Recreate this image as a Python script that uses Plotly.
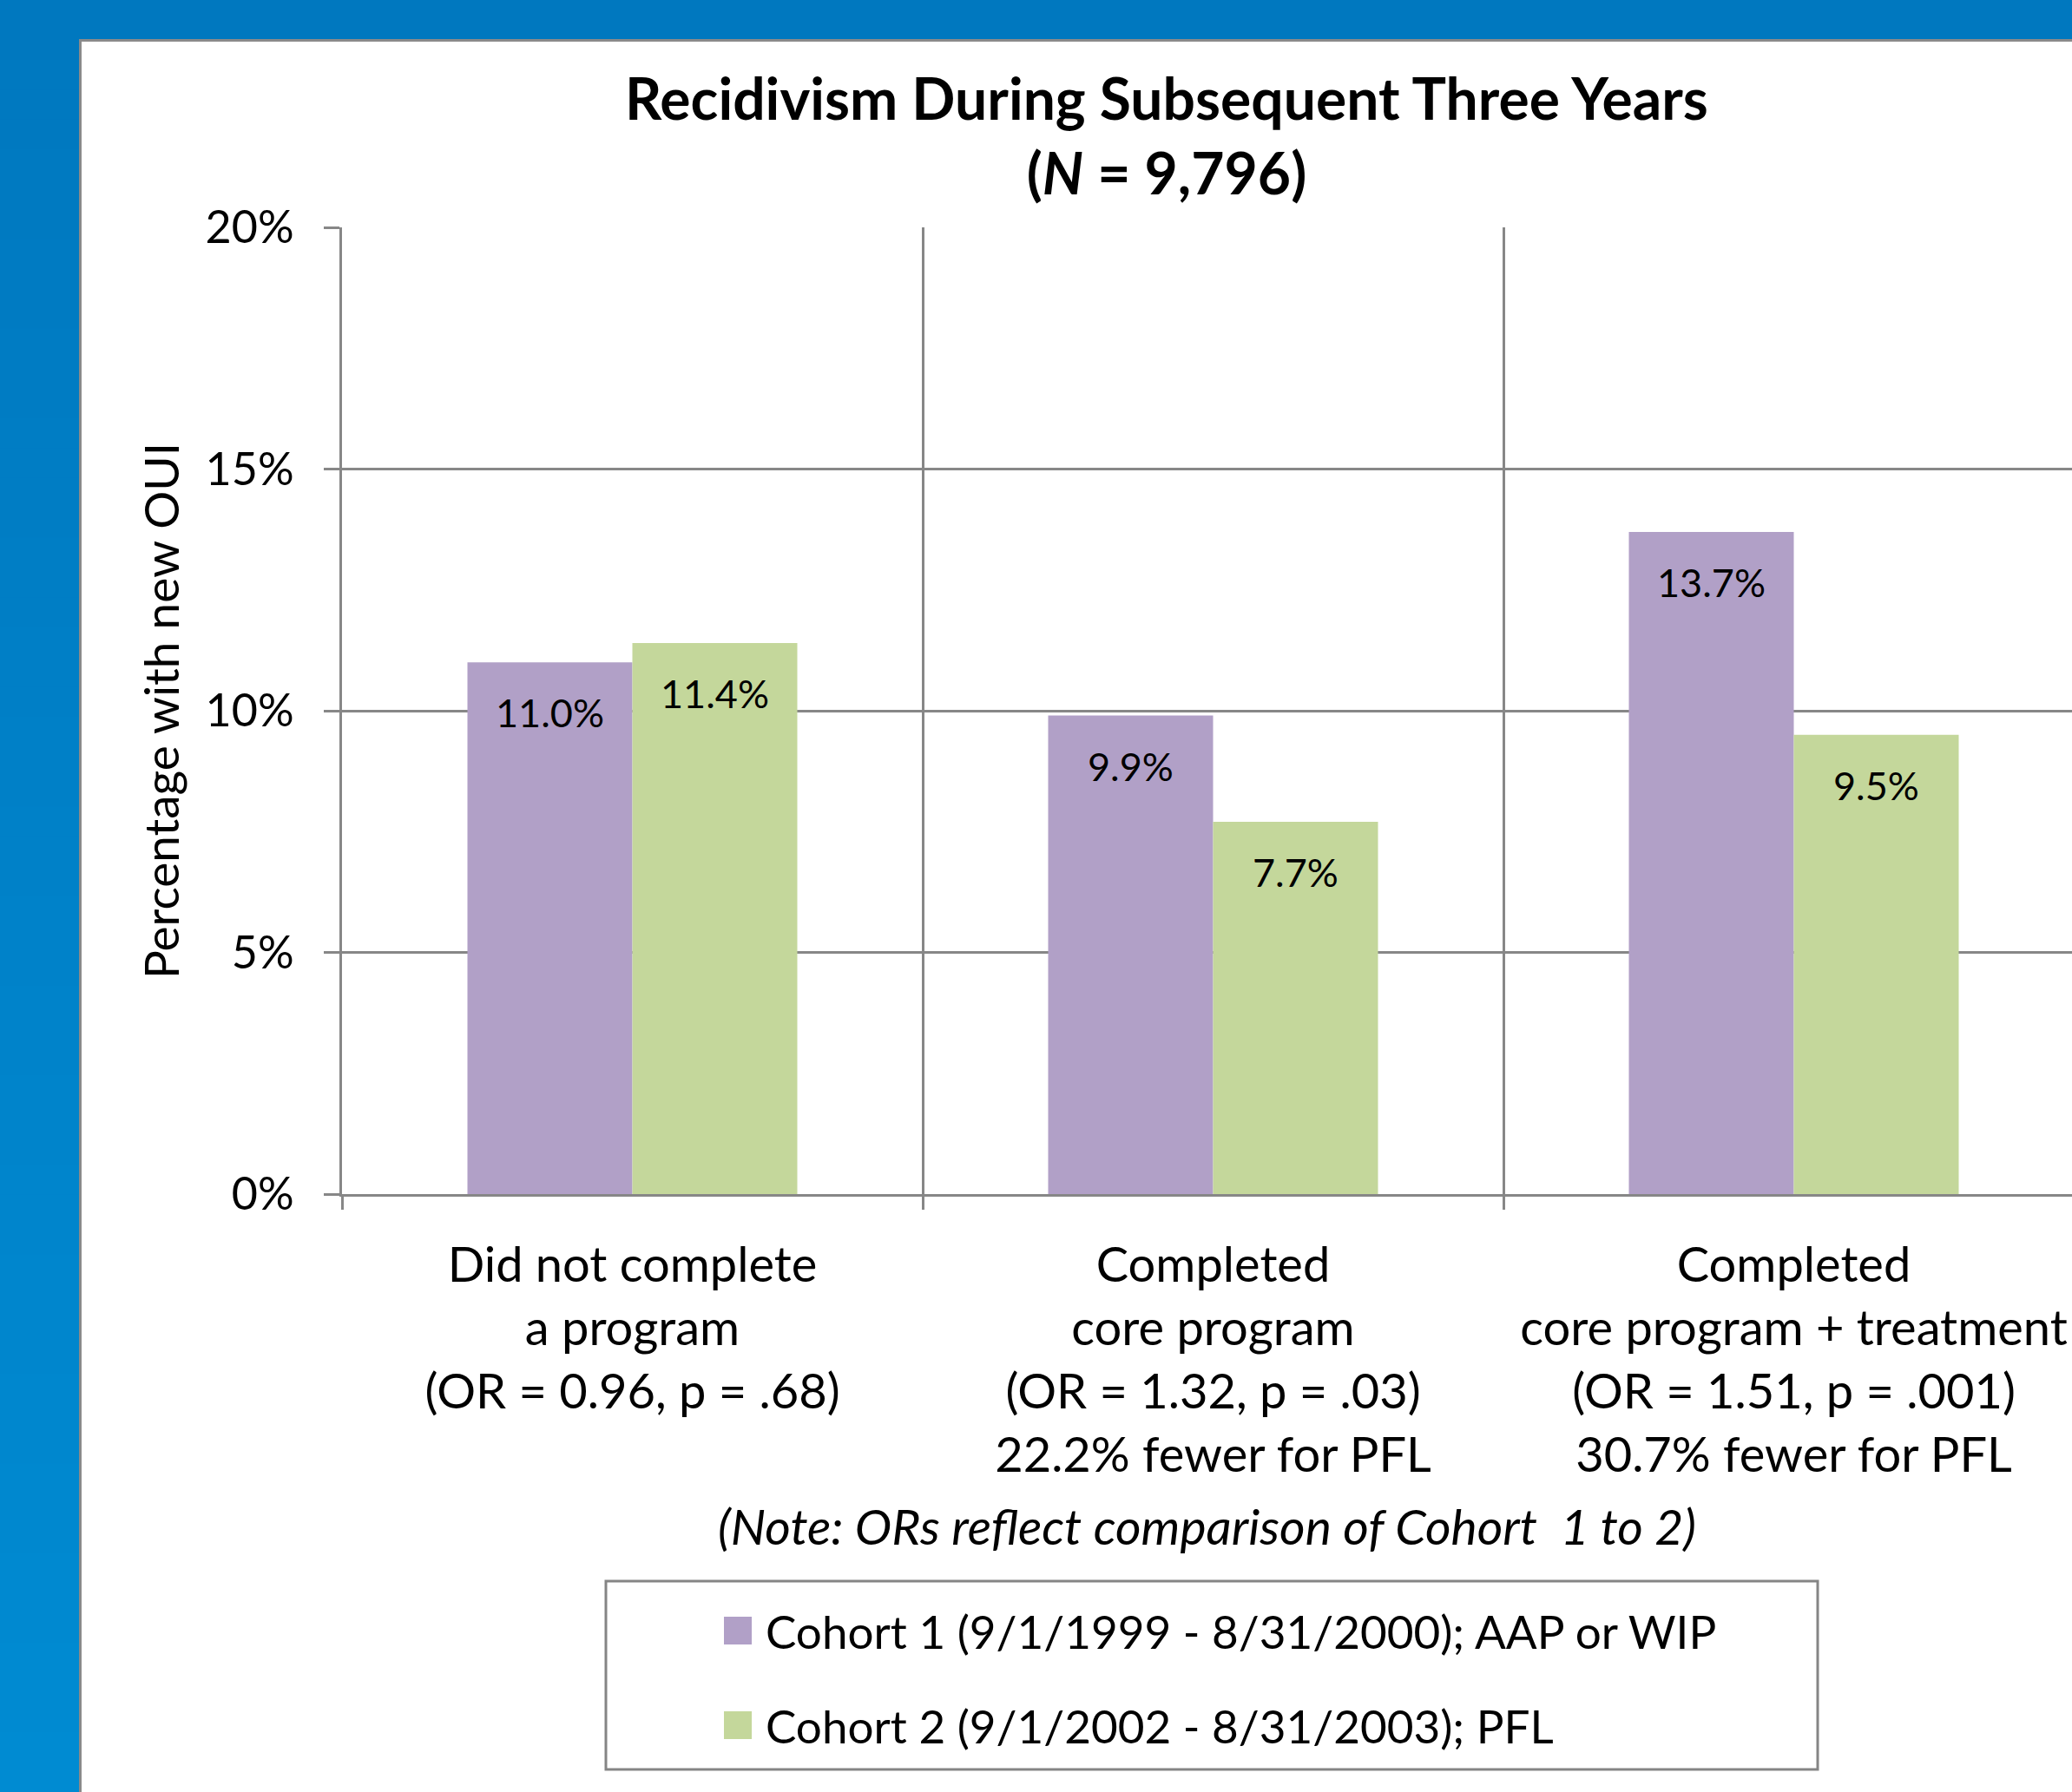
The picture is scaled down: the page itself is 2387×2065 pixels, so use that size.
import plotly.graph_objects as go

# ---- data -------------------------------------------------------------
categories = [
    "Did not complete<br>a program<br>(OR = 0.96, p = .68)",
    "Completed<br>core program<br>(OR = 1.32, p = .03)<br>22.2% fewer for PFL",
    "Completed<br>core program + treatment<br>(OR = 1.51, p = .001)<br>30.7% fewer for PFL",
]
series_names = [
    "Cohort 1 (9/1/1999 - 8/31/2000); AAP or WIP",
    "Cohort 2 (9/1/2002 - 8/31/2003); PFL",
]
cohort1 = [11.0, 9.9, 13.7]
cohort2 = [11.4, 7.7, 9.5]
y_ticks = [0, 5, 10, 15, 20]
y_tick_labels = ["0%", "5%", "10%", "15%", "20%"]
note_text = "(Note: ORs reflect comparison of Cohort  1 to 2)"

# ---- styling ----------------------------------------------------------
W, H = 2387, 2065
PL, PR, PT, PB = 394, 2387, 262, 1376     # plot area in pixels
FONT = "Lato, 'Noto Sans', sans-serif"
GRID = "#878787"
colors = ["#B1A0C7", "#C4D79B"]
bar_gap = 0.432
half_w = (1 - bar_gap) / 4                 # centre offset of each bar in a group
cat_px = 669.0                             # width of one category in pixels


def px_x(p):
    return (p - PL) / (PR - PL)


def px_y(p):
    return (PB - p) / (PB - PT)


fig = go.Figure()
for name, vals, col in zip(series_names, [cohort1, cohort2], colors):
    fig.add_trace(go.Bar(x=categories, y=vals, name=name, marker_color=col,
                         marker_line_width=0, showlegend=False))

shapes = []
# blue backdrop with a soft vertical gradient
n = 60
c0, c1 = (0x00, 0x78, 0xBF), (0x00, 0x8B, 0xD2)
for i in range(n):
    t = i / (n - 1)
    r, g, b = [round(a + (bb - a) * t) for a, bb in zip(c0, c1)]
    shapes.append(dict(type="rect", xref="paper", yref="paper", layer="below",
                       x0=px_x(0), x1=px_x(W + 5),
                       y0=px_y(H * (i + 1) / n + 1), y1=px_y(H * i / n),
                       fillcolor=f"rgb({r},{g},{b})", line_width=0))
# white panel
shapes.append(dict(type="rect", xref="paper", yref="paper", layer="below",
                   x0=px_x(92.5), x1=px_x(W + 20), y0=px_y(H + 20), y1=px_y(46.5),
                   fillcolor="white", line=dict(color="#8A8A8A", width=3)))
# legend box
shapes.append(dict(type="rect", xref="paper", yref="paper",
                   x0=px_x(698), x1=px_x(2094), y0=px_y(2039), y1=px_y(1822),
                   fillcolor="white", line=dict(color="#858585", width=3)))

annotations = []
# value labels sitting just under each bar top
for k, (vals, off) in enumerate([(cohort1, -half_w), (cohort2, half_w)]):
    for i, v in enumerate(vals):
        annotations.append(dict(x=i + off, y=v, xref="x", yref="y", text=f"{v:.1f}%",
                                showarrow=False, yshift=-58, yanchor="middle",
                                font=dict(family=FONT, size=45, color="black")))
# note under the category labels
annotations.append(dict(x=px_x(1390), y=px_y(1758), xref="paper", yref="paper",
                        text=f"<i>{note_text}</i>", showarrow=False, yanchor="middle",
                        font=dict(family=FONT, size=57, color="black")))
# legend entries
for name, col, cy in zip(series_names, colors, [1879, 1988]):
    shapes.append(dict(type="rect", xref="paper", yref="paper",
                       x0=px_x(834), x1=px_x(866), y0=px_y(cy + 16), y1=px_y(cy - 16),
                       fillcolor=col, line_width=0))
    annotations.append(dict(x=px_x(880), y=px_y(cy), xref="paper", yref="paper",
                            text=name, showarrow=False, xanchor="left", yanchor="middle",
                            font=dict(family=FONT, size=53, color="black")))

fig.update_layout(
    width=W, height=H,
    margin=dict(l=PL, r=W - PR, t=PT, b=H - PB, pad=0),
    paper_bgcolor="#007BC1", plot_bgcolor="rgba(0,0,0,0)",
    barmode="group", bargap=bar_gap, bargroupgap=0,
    font=dict(family=FONT, color="black"),
    title=dict(text="<b>Recidivism During Subsequent Three Years<br>(<i>N</i> = 9,796)</b>",
               x=1344 / W, xanchor="center", y=1 - 138 / H, yanchor="middle",
               font=dict(family=FONT, size=66, color="black")),
    xaxis=dict(type="category", range=[-0.5, 2.5 - (PL + 3 * cat_px - PR) / cat_px],
               tickson="boundaries", ticks="outside", ticklen=15, tickwidth=3,
               tickcolor=GRID, showgrid=True, gridcolor=GRID, gridwidth=3,
               showline=True, linecolor=GRID, linewidth=3,
               tickfont=dict(family=FONT, size=56), ticklabelstandoff=31),
    yaxis=dict(range=[0, 20], tickvals=y_ticks, ticktext=y_tick_labels,
               ticks="outside", ticklen=18, tickwidth=3, tickcolor=GRID,
               showgrid=True, gridcolor=GRID, gridwidth=3, zeroline=False,
               showline=True, linecolor=GRID, linewidth=3,
               tickfont=dict(family=FONT, size=52), ticklabelstandoff=24,
               title=dict(text="Percentage with new OUI", standoff=13,
                          font=dict(family=FONT, size=55))),
    shapes=shapes, annotations=annotations,
)

fig.write_html("out.html")
